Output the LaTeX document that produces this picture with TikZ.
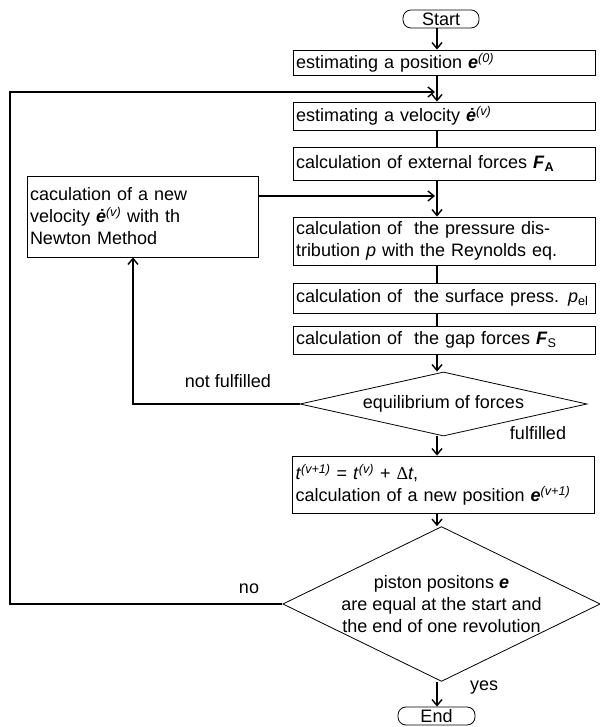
\documentclass[tikz,border=0pt]{standalone}
\usepackage{fontspec}
\setmainfont{Liberation Sans}
\newfontfamily\deltafont{Liberation Serif}
\usepackage{tikz}
\usetikzlibrary{calc,arrows.meta,shapes.geometric}
\newcommand{\bvec}[1]{\textbf{\textit{#1}}}
\newcommand{\supi}[1]{\textsuperscript{\textit{#1}}}

\begin{document}
\begin{tikzpicture}[x=1pt,y=1pt,
                      txt/.style={font=\fontsize{18}{22}\selectfont},
                      box/.style={txt,draw,line width=0.8pt,minimum width=302pt,text width=296pt,align=left,inner xsep=3pt,inner ysep=0pt},
                      term/.style={txt,draw,line width=0.8pt,rounded corners=8pt,minimum width=76pt,minimum height=18pt,inner sep=0pt},
                      decision/.style={txt,draw,line width=0.8pt,diamond,align=center,inner sep=0pt},
                      conn/.style={line width=1.2pt},
                      arr/.style={conn,-{Straight Barb[length=6pt,width=10pt,line width=1.4pt]}}]
                      \useasboundingbox(0,0)rectangle(599,727);
                      \coordinate(axis)at(437,0);
                      % main column
                      \node[term](start)at(441,708){Start};
                      \node[box,minimum height=25pt](box1)at(444,664.5){estimating a position \bvec{e}\supi{(0)}};
                      \node[box,minimum height=28pt](box2)at(444,611){estimating a velocity \bvec{\.e}\supi{(v)}};
                      \node[box,minimum height=33pt](box3)at(444,563.5){calculation of external forces \bvec{F}\textsubscript{\textbf{A}}};
                      \node[box,minimum height=48pt](box4)at(444,486){calculation of\ \ the pressure dis-\\tribution \textit{p} with the Reynolds eq.};
                      \node[box,minimum height=30pt](box5)at(444,429){calculation of\ \ the surface press. \textit{p}\textsubscript{el}};
                      \node[box,minimum height=28pt](box6)at(444,387){calculation of\ \ the gap forces \bvec{F}\textsubscript{S}};
                      \node[decision,minimum width=287pt,minimum height=64pt,aspect=4.48](d1)at(443.5,323){equilibrium of forces};
                      \node[box,minimum height=57pt](box7)at(443.5,242.5){\textit{t}\supi{(v+1)} = \textit{t}\supi{(v)} + {\deltafont Δ}\textit{t},\\calculation of a new position \bvec{e}\supi{(v+1)}};
                      \node[decision,minimum width=311pt,minimum height=152pt,aspect=2.05](d2)at(441.5,123){piston positons \bvec{e}\\are equal at the start and\\the end of one revolution};
                      \node[term,minimum width=77pt](endbox)at(436.5,11){End};
                      % side box
                      \node[box,minimum width=231pt,text width=225pt,minimum height=81pt](newvel)at(142.5,510.5){caculation of a new\\velocity \bvec{\.e}\supi{(v)} with th\\Newton Method};
                      % labels
                      \node[txt](lblnf)at(228,346){not fulfilled};
                      \node[txt](lblf)at(538,294){fulfilled};
                      \node[txt](lblno)at(249,138){no};
                      \node[txt](lblyes)at(484,39){yes};
                      % connectors
                      \foreach \a/\b in {start/box1,box1/box2,box3/box4,box6/d1,d1/box7,box7/d2,d2/endbox}
                        \draw[arr](\a.south -| axis)--(\b.north -| axis);
                      \foreach \a/\b in {box2/box3,box4/box5,box5/box6}
                        \draw[conn](\a.south -| axis)--(\b.north -| axis);
                      \coordinate(fb1)at(435,635);
                      \coordinate(loopl)at(10,635);
                      \coordinate(fb2)at(435,531);
                      \draw[arr](d2.west)-|(loopl)--(fb1);
                      \draw[arr](newvel.east |- fb2)--(fb2);
                      \draw[arr](d1.west)-|([xshift=-9.5pt]newvel.south);
                  \end{tikzpicture}
\end{document}
